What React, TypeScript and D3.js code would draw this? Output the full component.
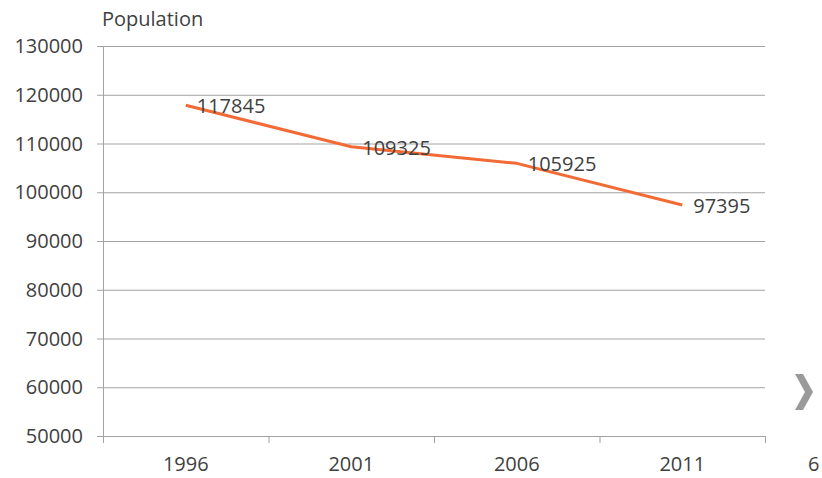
import * as React from 'react';
import { useEffect, useRef } from 'react';
import { select, scaleBand, scaleLinear, line, range } from 'd3';

const years = ['1996', '2001', '2006', '2011'];
const population = [117845, 109325, 105925, 97395];
const yTicks = [50000, 60000, 70000, 80000, 90000, 100000, 110000, 120000, 130000];

const WIDTH = 822;
const HEIGHT = 478;
const margin = { top: 46, right: 57, bottom: 42, left: 103 };
const FONT = '"Open Sans", "Noto Sans", sans-serif';
const TEXT = '#3f3f3f';

export default function App() {
    const ref = useRef<SVGSVGElement>(null);

    useEffect(() => {
        const svg = select(ref.current);
        svg.selectAll('*').remove();

        const x = scaleBand<string>().domain(years).range([margin.left, WIDTH - margin.right]);
        const y = scaleLinear().domain([50000, 130000]).range([HEIGHT - margin.bottom, margin.top]);

        svg.append('rect').attr('width', WIDTH).attr('height', HEIGHT).attr('fill', '#fff');

        // gridlines + y tick marks
        const grid = svg.append('g');
        grid.selectAll('line.grid')
            .data(yTicks.filter((t) => t > 50000))
            .join('line')
            .attr('x1', margin.left)
            .attr('x2', WIDTH - margin.right)
            .attr('y1', (d) => y(d) + 0.5)
            .attr('y2', (d) => y(d) + 0.5)
            .attr('stroke', '#a3a3a3')
            .attr('stroke-width', 1);
        grid.selectAll('line.ytick')
            .data(yTicks)
            .join('line')
            .attr('x1', margin.left - 6)
            .attr('x2', margin.left)
            .attr('y1', (d) => y(d) + 0.5)
            .attr('y2', (d) => y(d) + 0.5)
            .attr('stroke', '#a3a3a3');

        // axes lines
        svg.append('line')
            .attr('x1', margin.left + 0.5).attr('x2', margin.left + 0.5)
            .attr('y1', margin.top).attr('y2', y(50000))
            .attr('stroke', '#a3a3a3');
        svg.append('line')
            .attr('x1', margin.left).attr('x2', WIDTH - margin.right)
            .attr('y1', y(50000) + 0.5).attr('y2', y(50000) + 0.5)
            .attr('stroke', '#a3a3a3');

        // x category boundary ticks
        const bounds = range(years.length + 1).map((i) => margin.left + i * x.step());
        svg.selectAll('line.xtick')
            .data(bounds)
            .join('line')
            .attr('x1', (d) => d + 0.5).attr('x2', (d) => d + 0.5)
            .attr('y1', y(50000)).attr('y2', y(50000) + 7)
            .attr('stroke', '#a3a3a3');

        // y labels
        svg.selectAll('text.ylab')
            .data(yTicks)
            .join('text')
            .attr('x', 83)
            .attr('y', (d) => y(d))
            .attr('dy', '0.35em')
            .attr('text-anchor', 'end')
            .attr('font-family', FONT)
            .attr('font-size', 20)
            .attr('fill', TEXT)
            .text((d) => String(d));

        // x labels
        svg.selectAll('text.xlab')
            .data(years)
            .join('text')
            .attr('x', (d) => (x(d) as number) + x.bandwidth() / 2)
            .attr('y', 471)
            .attr('text-anchor', 'middle')
            .attr('font-family', FONT)
            .attr('font-size', 20)
            .attr('fill', TEXT)
            .text((d) => d);

        // axis title
        svg.append('text')
            .attr('x', 102)
            .attr('y', 26)
            .attr('font-family', FONT)
            .attr('font-size', 20)
            .attr('fill', TEXT)
            .text('Population');

        // series line
        const pts = years.map((yr, i) => ({ yr, v: population[i] }));
        const ln = line<{ yr: string; v: number }>()
            .x((d) => (x(d.yr) as number) + x.bandwidth() / 2)
            .y((d) => y(d.v));
        svg.append('path')
            .datum(pts)
            .attr('d', ln)
            .attr('fill', 'none')
            .attr('stroke', '#f26a35')
            .attr('stroke-width', 3)
            .attr('stroke-linejoin', 'round');

        // data labels
        svg.selectAll('text.dlab')
            .data(pts)
            .join('text')
            .attr('x', (d) => (x(d.yr) as number) + x.bandwidth() / 2 + 11)
            .attr('y', (d) => y(d.v) + 1)
            .attr('dy', '0.35em')
            .attr('font-family', FONT)
            .attr('font-size', 20)
            .attr('fill', TEXT)
            .text((d) => String(d.v));

        // scan artifacts at right edge
        svg.append('path')
            .attr('d', 'M795,374 L803,374 L813,392 L803,410 L795,410 L805,392 Z')
            .attr('fill', '#9a9a9a');
        svg.append('text')
            .attr('x', 808)
            .attr('y', 471)
            .attr('font-family', FONT)
            .attr('font-size', 20)
            .attr('fill', TEXT)
            .text('6');
    }, []);

    return (
        <svg
            ref={ref}
            width={WIDTH}
            height={HEIGHT}
            style={{ position: 'absolute', left: 0, top: 0, display: 'block' }}
        />
    );
}
